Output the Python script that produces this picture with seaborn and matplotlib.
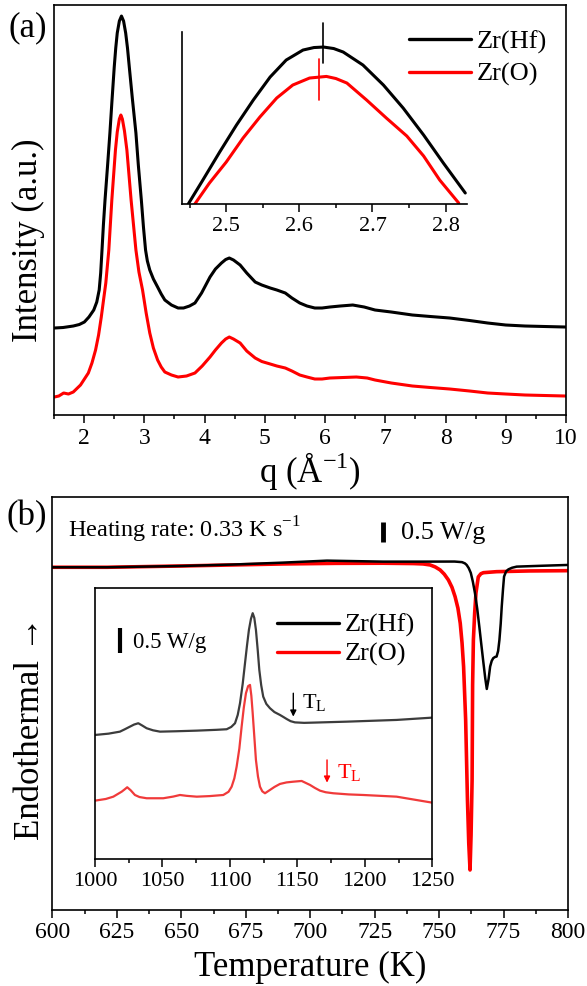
import matplotlib
matplotlib.use("Agg")
import pandas as pd
import matplotlib.pyplot as plt
import seaborn as sns
from matplotlib.ticker import MultipleLocator
from matplotlib.lines import Line2D

samples = ["Zr(Hf)", "Zr(O)"]
palette = {"Zr(Hf)": "black", "Zr(O)": "red"}
inset_palette = {"Zr(Hf)": "#3c3c3c", "Zr(O)": "#f03a3a"}

# (a) X-ray structure factor
q_hf = [1.506, 1.65, 1.82, 1.92, 2.004, 2.08, 2.16, 2.21, 2.25, 2.275,
        2.297, 2.32, 2.347, 2.39, 2.428, 2.46, 2.50, 2.525, 2.55, 2.585,
        2.62, 2.655, 2.69, 2.72, 2.75, 2.80, 2.86, 2.90, 2.95, 2.985,
        3.02, 3.05, 3.09, 3.15, 3.22, 3.28, 3.34, 3.45, 3.56, 3.65,
        3.75, 3.84, 3.95, 4.09, 4.18, 4.28, 4.35, 4.41, 4.48, 4.59,
        4.7, 4.84, 4.95, 5.09, 5.2, 5.34, 5.45, 5.58, 5.7, 5.83,
        5.95, 6.08, 6.25, 6.46, 6.65, 6.83, 7.1, 7.45, 7.75, 8.07,
        8.4, 8.70, 9.0, 9.32, 9.65, 9.99]
i_hf = [0.87, 0.875, 0.89, 0.905, 0.93, 0.98, 1.05, 1.13, 1.25, 1.42,
        1.65, 1.9, 2.15, 2.5, 2.82, 3.12, 3.48, 3.67, 3.82, 3.94,
        3.99, 3.94, 3.82, 3.67, 3.48, 3.17, 2.82, 2.5, 2.15, 1.88,
        1.65, 1.54, 1.45, 1.36, 1.28, 1.21, 1.15, 1.10, 1.07, 1.07,
        1.09, 1.12, 1.22, 1.38, 1.46, 1.52, 1.555, 1.57, 1.55, 1.50,
        1.42, 1.33, 1.30, 1.27, 1.25, 1.22, 1.17, 1.12, 1.09, 1.07,
        1.07, 1.08, 1.09, 1.10, 1.08, 1.05, 1.03, 1.00, 0.985, 0.97,
        0.945, 0.92, 0.90, 0.89, 0.885, 0.88]
q_o = [1.506, 1.58, 1.66, 1.74, 1.82, 1.94, 2.07, 2.13, 2.19, 2.24,
       2.285, 2.32, 2.36, 2.41, 2.46, 2.52, 2.55, 2.585, 2.61, 2.635,
       2.67, 2.71, 2.78, 2.86, 2.91, 2.97, 3.03, 3.09, 3.15, 3.22,
       3.28, 3.34, 3.45, 3.56, 3.70, 3.84, 3.96, 4.09, 4.18, 4.28,
       4.35, 4.41, 4.48, 4.59, 4.7, 4.84, 4.95, 5.09, 5.2, 5.34,
       5.45, 5.58, 5.7, 5.83, 5.95, 6.08, 6.3, 6.52, 6.7, 6.83,
       7.1, 7.45, 7.75, 8.07, 8.4, 8.70, 9.0, 9.32, 9.65, 9.99]
i_o = [0.18, 0.19, 0.22, 0.21, 0.23, 0.30, 0.42, 0.52, 0.65, 0.80,
       0.98, 1.14, 1.32, 1.65, 2.15, 2.65, 2.83, 2.96, 3.00, 2.96,
       2.84, 2.65, 2.15, 1.65, 1.43, 1.25, 1.02, 0.82, 0.67, 0.55,
       0.48, 0.43, 0.40, 0.38, 0.39, 0.42, 0.49, 0.58, 0.65, 0.72,
       0.76, 0.78, 0.76, 0.72, 0.64, 0.57, 0.535, 0.51, 0.49, 0.47,
       0.44, 0.40, 0.38, 0.36, 0.36, 0.37, 0.375, 0.38, 0.37, 0.35,
       0.32, 0.29, 0.275, 0.26, 0.24, 0.22, 0.21, 0.20, 0.195, 0.19]

# (a) inset: first peak
qi_hf = [2.448, 2.468, 2.491, 2.514, 2.537, 2.56, 2.582, 2.605, 2.62, 2.633,
         2.647, 2.66, 2.687, 2.715, 2.742, 2.77, 2.797, 2.827]
ii_hf = [0, 24, 52, 79, 104, 127, 144, 154, 156.5, 157, 155.5, 152, 139, 119, 96, 69,
         41, 11]
qi_o = [2.457, 2.477, 2.5, 2.523, 2.546, 2.569, 2.591, 2.614, 2.637, 2.65, 2.665,
        2.692, 2.719, 2.747, 2.77, 2.792, 2.818]
ii_o = [0, 21, 42, 66, 87, 106, 119, 126, 127.6, 125.5, 121, 104, 86, 68, 48, 24, 1]
peak_hf = 2.632
peak_o = 2.627

# (b) DSC heating curves (W/g, offset)
t_hf = [600, 621.2, 650.6, 670, 689.4, 706.5, 728.2, 743.8, 756, 758.9,
        760.0, 760.7, 761.5, 762.3, 763.1, 763.9, 764.8, 765.6, 766.4, 767.2,
        767.9, 768.5, 769.2, 769.8, 770.4, 771.0, 771.7, 772.3, 772.9, 773.4,
        773.9, 774.3, 774.8, 775.2, 776.0, 776.9, 778.3, 780.1, 790, 800]
h_hf = [-0.008, -0.008, 0.025, 0.06, 0.108, 0.158, 0.133, 0.133, 0.135, 0.12,
        0.09, 0.05, -0.03, -0.15, -0.37, -0.65, -1.05, -1.49, -1.95, -2.40,
        -2.78, -3.05, -2.80, -2.49, -2.35, -2.28, -2.25, -2.24, -2.1, -1.825,
        -1.42, -0.99, -0.55, -0.24, -0.11, -0.06, -0.02, 0.008, 0.03, 0.05]
t_o = [600, 621.2, 650.6, 670, 689.4, 710, 728.2, 740, 743.8, 746.5,
       748.5, 750.4, 752, 753.6, 755, 756.2, 757.3, 758.2, 758.9, 759.5,
       760.3, 761.0, 761.5, 762.0, 762.4, 762.8, 763.0, 763.3, 763.8, 764.3,
       765.2, 766.2, 767.2, 772.3, 785, 800]
h_o = [-0.008, -0.008, 0.025, 0.05, 0.075, 0.09, 0.093, 0.085, 0.075, 0.05,
       0.0, -0.075, -0.18, -0.325, -0.51, -0.743, -1.03, -1.408, -1.9, -2.493,
       -3.825, -5.825, -6.9, -7.575, -6.7, -5.325, -2.95, -1.825, -1.15, -0.65,
       -0.25, -0.17, -0.143, -0.118, -0.10, -0.093]

# (b) inset: high temperature part
ti_hf = [1000, 1010, 1018.5, 1022, 1025.9, 1029, 1032.1, 1035, 1038.3, 1043,
         1048.2, 1060, 1075.4, 1090, 1097.6, 1101, 1103.8, 1105.8, 1107.5, 1109.5,
         1111.2, 1112.7, 1114.1, 1115.6, 1116.9, 1118.1, 1119.3, 1120.6, 1121.8, 1123.2,
         1124.7, 1127, 1129.7, 1133, 1137.1, 1139.5, 1142.1, 1145, 1148.2, 1155,
         1161.8, 1186.6, 1223.6, 1250]
hi_hf = [2.583, 2.61, 2.652, 2.70, 2.756, 2.80, 2.827, 2.78, 2.723, 2.68,
         2.652, 2.66, 2.673, 2.69, 2.702, 2.75, 2.827, 3.0, 3.244, 3.65,
         4.077, 4.45, 4.771, 5.0, 5.119, 5.02, 4.771, 4.36, 3.938, 3.62,
         3.381, 3.23, 3.140, 3.06, 3.0, 2.96, 2.915, 2.87, 2.845, 2.835,
         2.840, 2.860, 2.896, 2.944]
ti_o = [1000, 1008, 1013.6, 1019.8, 1022, 1023.9, 1026.5, 1029.6, 1033, 1038.3,
        1050.6, 1058, 1063, 1068, 1075.4, 1085, 1095.1, 1099, 1101.3, 1103.3,
        1105, 1107, 1108.7, 1110.3, 1111.9, 1113.5, 1114.9, 1115.9, 1116.9, 1118.1,
        1119.3, 1120.8, 1122.3, 1124, 1126, 1129.7, 1133, 1137.1, 1142, 1147,
        1153.2, 1159.4, 1163, 1166.8, 1171, 1176.6, 1188, 1198.9, 1223.6, 1250]
hi_o = [1.215, 1.25, 1.298, 1.402, 1.45, 1.494, 1.43, 1.333, 1.29, 1.265,
        1.265, 1.30, 1.333, 1.315, 1.298, 1.31, 1.333, 1.40, 1.506, 1.68,
        1.923, 2.30, 2.756, 3.15, 3.452, 3.60, 3.625, 3.40, 3.035, 2.55,
        2.063, 1.72, 1.506, 1.41, 1.369, 1.438, 1.50, 1.563, 1.595, 1.61,
        1.625, 1.542, 1.48, 1.423, 1.39, 1.369, 1.345, 1.333, 1.298, 1.173]
tl_hf = 1147
tl_o = 1172


def frame(x, y, name, xcol, ycol):
    return pd.DataFrame({xcol: x, ycol: y, "sample": name})


df_a = pd.concat([frame(q_hf, i_hf, "Zr(Hf)", "q", "I"),
                  frame(q_o, i_o, "Zr(O)", "q", "I")], ignore_index=True)
df_ai = pd.concat([frame(qi_hf, ii_hf, "Zr(Hf)", "q", "I"),
                   frame(qi_o, ii_o, "Zr(O)", "q", "I")], ignore_index=True)
df_b = pd.concat([frame(t_hf, h_hf, "Zr(Hf)", "T", "H"),
                  frame(t_o, h_o, "Zr(O)", "T", "H")], ignore_index=True)
df_bi = pd.concat([frame(ti_hf, hi_hf, "Zr(Hf)", "T", "H"),
                   frame(ti_o, hi_o, "Zr(O)", "T", "H")], ignore_index=True)

sns.set_theme(style="ticks", rc={"axes.edgecolor": "black", "xtick.color": "black",
                                 "ytick.color": "black", "text.color": "black",
                                 "axes.labelcolor": "black"})
plt.rcParams["font.family"] = ["Liberation Serif", "DejaVu Serif"]
plt.rcParams["mathtext.fontset"] = "custom"
plt.rcParams["mathtext.rm"] = "Liberation Serif"

fig = plt.figure(figsize=(5.87, 9.86), dpi=100)
ax_a = fig.add_axes([0.092, 0.5791, 0.8722, 0.4158])
ax_b = fig.add_axes([0.0894, 0.0771, 0.8782, 0.4189])
ax_ai = fig.add_axes([0.310, 0.7931, 0.4855, 0.1744])
ax_bi = fig.add_axes([0.1618, 0.1288, 0.5746, 0.2745])


def style_axis(ax, major, minor, size):
    ax.xaxis.set_major_locator(MultipleLocator(major))
    ax.xaxis.set_minor_locator(MultipleLocator(minor))
    ax.set_yticks([])
    ax.tick_params(axis="x", which="major", direction="out", length=6, width=1.1,
                   labelsize=size, pad=3)
    ax.tick_params(axis="x", which="minor", direction="out", length=3, width=1.1)
    for s in ax.spines.values():
        s.set_linewidth(1.2)


# panel (a)
sns.lineplot(data=df_a, x="q", y="I", hue="sample", palette=palette, estimator=None,
             sort=False, lw=2.2, legend=False, ax=ax_a)
ax_a.set_xlim(1.5, 10)
ax_a.set_ylim(0, 4.1)
style_axis(ax_a, 1, 0.5, 17)
ax_a.set_xlabel(r"q (Å$^{\mathregular{-1}}$)", fontsize=25)
ax_a.xaxis.set_label_coords(0.5, -0.085)
ax_a.set_ylabel("Intensity (a.u.)", fontsize=25)
ax_a.yaxis.set_label_coords(-0.018, 0.427)

sns.lineplot(data=df_ai, x="q", y="I", hue="sample", palette=palette, estimator=None,
             sort=False, lw=2.2, legend=False, ax=ax_ai)
ax_ai.set_facecolor("none")
ax_ai.set_xlim(2.4394, 2.8293)
ax_ai.set_ylim(0, 172)
style_axis(ax_ai, 0.1, 0.05, 16)
ax_ai.spines["top"].set_visible(False)
ax_ai.spines["right"].set_visible(False)
ax_ai.set_xlabel("")
ax_ai.set_ylabel("")
ax_ai.plot([peak_hf, peak_hf], [141, 181], color="black", lw=1.2, clip_on=False)
ax_ai.plot([peak_o, peak_o], [104, 145], color="red", lw=1.2, clip_on=False)

handles = [Line2D([], [], color=palette[s], lw=2.4) for s in samples]
ax_a.legend(handles, samples, loc="upper left", bbox_to_anchor=(0.6968, 0.9698),
            bbox_transform=fig.transFigure, frameon=False, fontsize=19, borderpad=0,
            borderaxespad=0, handlelength=2.35, handletextpad=0.23, labelspacing=0.33)

# panel (b)
sns.lineplot(data=df_b[df_b["sample"] == "Zr(Hf)"], x="T", y="H", color="black",
             estimator=None, sort=False, lw=1.8, ax=ax_b)
sns.lineplot(data=df_b[df_b["sample"] == "Zr(O)"], x="T", y="H", color="red",
             estimator=None, sort=False, lw=2.6, ax=ax_b)
ax_b.lines[0].set_zorder(3)
ax_b.set_xlim(600, 800)
ax_b.set_ylim(-8.575, 1.75)
style_axis(ax_b, 25, 12.5, 17)
ax_b.set_xlabel("Temperature (K)", fontsize=25)
ax_b.xaxis.set_label_coords(0.5, -0.099)
ax_b.set_ylabel("Endothermal →", fontsize=25)
ax_b.yaxis.set_label_coords(-0.011, 0.441)
ax_b.text(606.2, 0.725, r"Heating rate: 0.33 K s$^{\mathregular{-1}}$", fontsize=17.5,
          va="baseline", ha="left")
ax_b.plot([728.4, 728.4], [0.63, 1.13], color="black", lw=3.5, solid_capstyle="butt")
ax_b.text(735.3, 0.70, "0.5 W/g", fontsize=19, va="baseline", ha="left")

sns.lineplot(data=df_bi, x="T", y="H", hue="sample", palette=inset_palette,
             estimator=None, sort=False, lw=1.6, legend=False, ax=ax_bi)
ax_bi.set_xlim(1000, 1250)
ax_bi.set_ylim(0, 5.636)
style_axis(ax_bi, 50, 25, 16)
ax_bi.set_xlabel("")
ax_bi.set_ylabel("")
ax_bi.plot([1018.5, 1018.5], [4.298, 4.806], color="black", lw=3.0, solid_capstyle="butt")
ax_bi.text(1028.4, 4.39, "0.5 W/g", fontsize=16.5, va="baseline", ha="left")
ax_bi.annotate("", xy=(tl_hf, 2.965), xytext=(tl_hf, 3.452),
               arrowprops=dict(arrowstyle="-|>", color="black", lw=1, mutation_scale=9,
                               shrinkA=0, shrinkB=0))
ax_bi.annotate("", xy=(tl_o, 1.59), xytext=(tl_o, 2.063),
               arrowprops=dict(arrowstyle="-|>", color="red", lw=1, mutation_scale=9,
                               shrinkA=0, shrinkB=0))
ax_bi.text(1153.2, 3.146, r"T$_{\mathregular{L}}$", fontsize=16, va="baseline")
ax_bi.text(1179.1, 1.681, r"T$_{\mathregular{L}}$", fontsize=16, va="baseline", color="red")
ax_bi.legend(handles, samples, loc="upper left", bbox_to_anchor=(0.4714, 0.3778),
             bbox_transform=fig.transFigure, frameon=False, fontsize=19, borderpad=0,
             borderaxespad=0, handlelength=2.35, handletextpad=0.23, labelspacing=0.19)

fig.text(28 / 587, 1 - 28 / 986, "(a)", fontsize=25, ha="center", va="center")
fig.text(27 / 587, 1 - 517 / 986, "(b)", fontsize=25, ha="center", va="center")

fig.savefig("out.png", dpi=100)
plt.close(fig)
